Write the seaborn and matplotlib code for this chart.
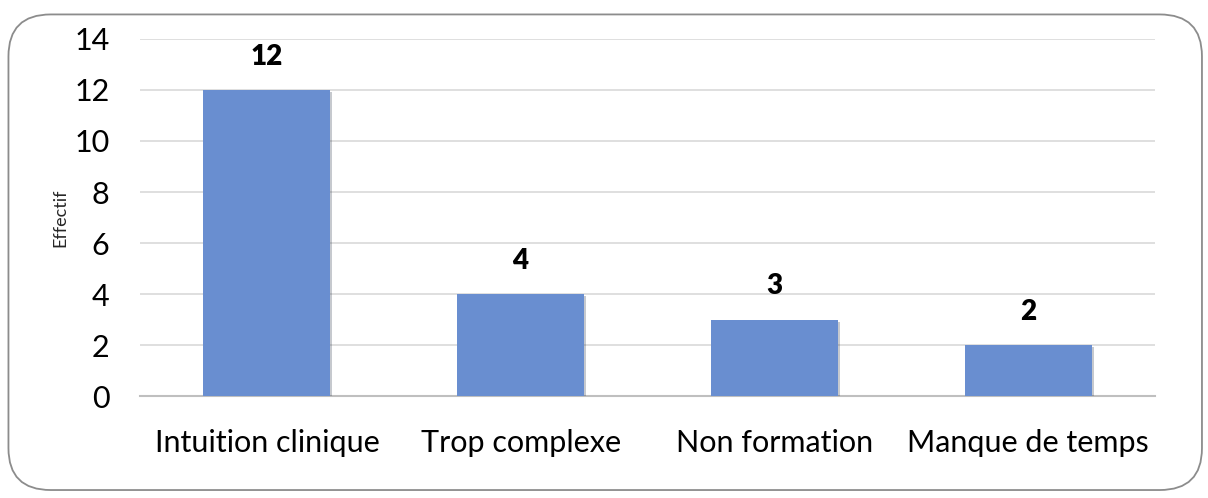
import matplotlib
matplotlib.use("Agg")
import matplotlib.pyplot as plt
import matplotlib.patheffects as pe
from matplotlib.patches import FancyBboxPatch
import seaborn as sns
import pandas as pd

# data
categories = ["Intuition clinique", "Trop complexe", "Non formation", "Manque de temps"]
effectifs = [12, 4, 3, 2]
yticks = [0, 2, 4, 6, 8, 10, 12, 14]

df = pd.DataFrame({"Raison": categories, "Effectif": effectifs})

sns.set_style("white")
plt.rcParams["font.family"] = ["Lato", "DejaVu Sans"]

fig = plt.figure(figsize=(12.08, 4.98), dpi=100)
ax = fig.add_axes([0.1159, 0.2048, 0.8402, 0.7169])

# rounded frame around the chart
frame = FancyBboxPatch((0.007, 0.016), 0.988, 0.955,
                       boxstyle="round,pad=0,rounding_size=0.035",
                       transform=fig.transFigure, facecolor="none",
                       edgecolor="#8c8c8c", linewidth=1.3, mutation_aspect=2.4)
fig.patches.append(frame)

sns.barplot(data=df, x="Raison", y="Effectif", color="#698ED0",
            width=0.5, saturation=1, ax=ax, zorder=3, edgecolor="none", linewidth=0)

for bar in ax.patches:
    bar.set_path_effects([pe.SimplePatchShadow(offset=(1.5, -1.5), alpha=0.25), pe.Normal()])

for i, v in enumerate(effectifs):
    ax.text(i, v + 0.8, str(v), ha="center", va="bottom",
            fontsize=20, fontweight="heavy", color="black")

ax.set_ylim(0, 14)
ax.set_xlim(-0.5, 3.5)
ax.set_yticks(yticks)
ax.yaxis.grid(True, color="#d9d9d9", linewidth=1.2, zorder=0)
ax.set_axisbelow(True)
for s in ["top", "right", "left"]:
    ax.spines[s].set_visible(False)
ax.spines["bottom"].set_color("#bfbfbf")
ax.spines["bottom"].set_linewidth(1.5)

ax.tick_params(axis="x", length=0, labelsize=22, colors="black", pad=24)
ax.tick_params(axis="y", length=0, labelsize=22, colors="black", pad=22)
ax.set_xlabel("")
ax.set_ylabel("Effectif", fontsize=13, labelpad=4)

fig.savefig("out.png", dpi=100)
